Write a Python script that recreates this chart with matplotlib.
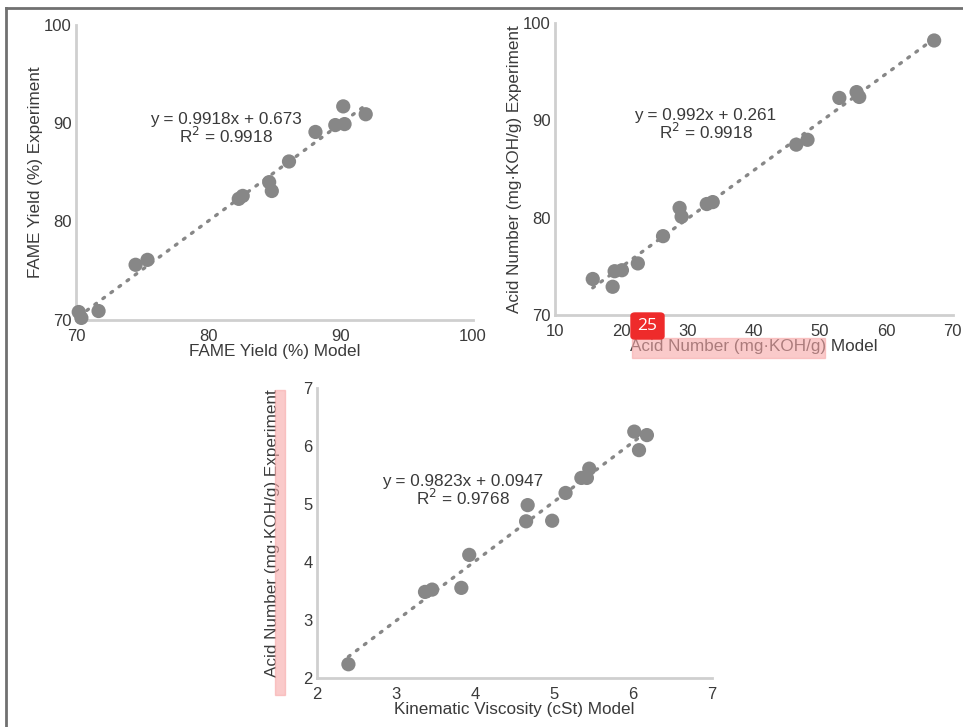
import numpy as np
import matplotlib
matplotlib.use("Agg")
from matplotlib import pyplot as plt
from matplotlib.patches import FancyBboxPatch, Rectangle
from matplotlib.lines import Line2D

plt.rcParams['font.family'] = ['Liberation Sans', 'DejaVu Sans']

# ---- data ----
fame_model = [70.2, 70.4, 71.7, 74.5, 75.4, 82.3, 82.6, 84.6, 84.8, 86.1,
              88.1, 89.6, 90.3, 90.2, 91.9]
fame_exp = [70.8, 70.2, 70.9, 75.6, 76.1, 82.3, 82.6, 84.0, 83.1, 86.1,
            89.1, 89.8, 89.9, 91.7, 90.9]

acid_model = [15.7, 18.7, 19.0, 20.1, 22.5, 26.3, 28.8, 29.1, 32.9, 33.8,
              46.4, 48.1, 52.9, 55.5, 55.9, 67.2]
acid_exp = [73.7, 72.9, 74.5, 74.6, 75.3, 78.1, 81.0, 80.1, 81.4, 81.6,
            87.5, 88.0, 92.3, 92.9, 92.4, 98.2]

visc_model = [2.40, 3.37, 3.46, 3.83, 3.93, 4.65, 4.67, 4.98, 5.15, 5.35,
              5.42, 5.45, 6.02, 6.18, 6.08]
visc_exp = [2.23, 3.48, 3.52, 3.55, 4.12, 4.70, 4.98, 4.71, 5.19, 5.45,
            5.45, 5.61, 6.25, 6.19, 5.93]

fame_eq = "y = 0.9918x + 0.673\nR$^2$ = 0.9918"
acid_eq = "y = 0.992x + 0.261\nR$^2$ = 0.9918"
visc_eq = "y = 0.9823x + 0.0947\nR$^2$ = 0.9768"

fame_ticks = [70, 80, 90, 100]
acid_xticks = [10, 20, 30, 40, 50, 60, 70]
acid_yticks = [70, 80, 90, 100]
visc_ticks = [2, 3, 4, 5, 6, 7]

pt_col = "#878787"
txt_col = "#3a3a3a"
ax_col = "#cfcfcf"

fig = plt.figure(figsize=(9.63, 7.27), dpi=100)


def panel(rect, x, y, xt, yt, xlab, ylab, eq, eqpos, ypad):
    ax = fig.add_axes(rect)
    ax.set_xlim(xt[0], xt[-1])
    ax.set_ylim(yt[0], yt[-1])
    ax.set_xticks(xt)
    ax.set_yticks(yt)
    for s in ["top", "right"]:
        ax.spines[s].set_visible(False)
    for s in ["left", "bottom"]:
        ax.spines[s].set_color(ax_col)
        ax.spines[s].set_linewidth(2)
    ax.tick_params(length=0, labelsize=12, labelcolor=txt_col)
    ax.tick_params(axis="x", pad=6.5)
    ax.tick_params(axis="y", pad=3)
    # dotted linear trendline
    x = np.array(x)
    k, b = np.polyfit(x, y, 1)
    xx = np.array([x.min(), x.max()])
    ax.plot(xx, k * xx + b, color=pt_col, lw=2.4, ls=(0, (0.6, 2.4)),
            dash_capstyle="round", zorder=2)
    ax.scatter(x, y, s=105, color=pt_col, edgecolor="none", zorder=3,
               clip_on=False)
    ax.set_xlabel(xlab, fontsize=12.3, color=txt_col, labelpad=0)
    ax.set_ylabel(ylab, fontsize=12.3, color=txt_col, labelpad=ypad)
    ax.text(eqpos[0], eqpos[1], eq, ha="center", va="center",
            fontsize=12.3, color=txt_col, linespacing=0.95)
    return ax


ax1 = panel([0.079, 0.560, 0.412, 0.406], fame_model, fame_exp,
            fame_ticks, fame_ticks, "FAME Yield (%) Model",
            "FAME Yield (%) Experiment", fame_eq, (81.3, 89.4), 1)
ax2 = panel([0.5763, 0.5667, 0.413, 0.4017], acid_model, acid_exp,
            acid_xticks, acid_yticks, "Acid Number (mg\u00b7KOH/g) Model",
            "Acid Number (mg\u00b7KOH/g) Experiment", acid_eq, (32.7, 89.5), 1)
ax3 = panel([0.329, 0.068, 0.41, 0.398], visc_model, visc_exp,
            visc_ticks, visc_ticks, "Kinematic Viscosity (cSt) Model",
            "Acid Number (mg\u00b7KOH/g) Experiment", visc_eq, (3.85, 5.22), 17)

# highlight overlays on the reference picture
W, H = 963, 727
fig.patches.append(Rectangle((632 / W, 1 - 358 / H), 193 / W, 20 / H,
                             transform=fig.transFigure, color="#f7a8a8",
                             alpha=0.6, zorder=5))
fig.patches.append(Rectangle((275 / W, 1 - 695 / H), 10 / W, 305 / H,
                             transform=fig.transFigure, color="#f7a8a8",
                             alpha=0.6, zorder=5))
fig.patches.append(FancyBboxPatch((631 / W, 1 - 339 / H), 33 / W, 26 / H,
                                  boxstyle="round,pad=0,rounding_size=0.004",
                                  transform=fig.transFigure, color="#ee2b2b",
                                  zorder=6))
fig.text(647.5 / W, 1 - 326 / H, "25", color="white", fontsize=12.5,
         ha="center", va="center", family=["Open Sans", "DejaVu Sans"],
         zorder=7)

# outer frame (top and left edges)
fig.add_artist(Line2D([6 / W, 1], [1 - 8 / H, 1 - 8 / H], color="#707070",
                      lw=2, transform=fig.transFigure))
fig.add_artist(Line2D([6 / W, 6 / W], [0, 1 - 8 / H], color="#707070",
                      lw=2, transform=fig.transFigure))

fig.savefig("out.png", dpi=100)
